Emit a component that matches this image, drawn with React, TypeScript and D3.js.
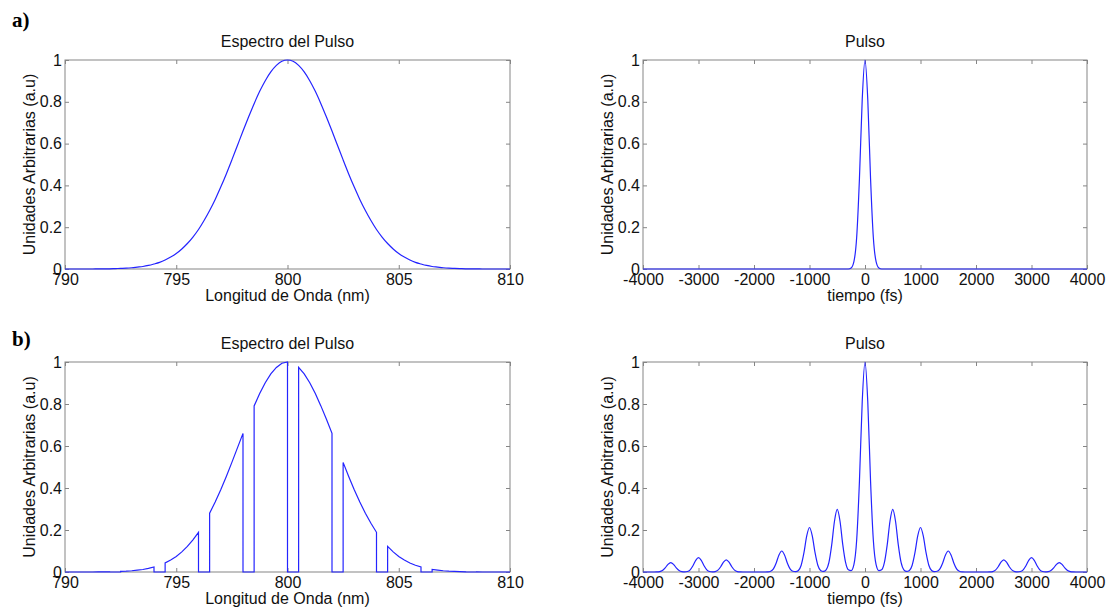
import React, { useEffect, useRef } from 'react';
import * as d3 from 'd3';

const W = 1109;
const H = 608;
const FONT = '"Liberation Sans", Arial, Helvetica, sans-serif';
const SERIF = '"Liberation Serif", "Times New Roman", serif';
const FS = 16;
const AXIS = '#858585';
const LINE = '#2424ff';

// --- values ---
const wavelengthTicks = [790, 795, 800, 805, 810];
const timeTicks = [-4000, -3000, -2000, -1000, 0, 1000, 2000, 3000, 4000];
const amplitudeTicks = [0, 0.2, 0.4, 0.6, 0.8, 1];

// pulse spectrum, one sample every 0.25 nm from 790 to 810 nm
const spectrum = [
  0, 0, 0, 0, 0, 0, 0.001, 0.001, 0.001, 0.002, 0.003, 0.004, 0.006, 0.009, 0.012, 0.017,
  0.024, 0.032, 0.043, 0.057, 0.074, 0.096, 0.122, 0.153, 0.189, 0.232, 0.28, 0.333, 0.392, 0.455,
  0.522, 0.591, 0.66, 0.727, 0.791, 0.85, 0.901, 0.943, 0.974, 0.994,
  1,
  0.994, 0.974, 0.943, 0.901, 0.85, 0.791, 0.727, 0.66, 0.591, 0.522, 0.455, 0.392, 0.333, 0.28,
  0.232, 0.189, 0.153, 0.122, 0.096, 0.074, 0.057, 0.043, 0.032, 0.024, 0.017, 0.012, 0.009, 0.006,
  0.004, 0.003, 0.002, 0.001, 0.001, 0.001, 0, 0, 0, 0, 0, 0,
];
const wavelength = spectrum.map((_, i) => 790 + i * 0.25);

// bands cut out of the spectrum in b) (nm)
const blockedBands = [
  [792, 792.5], [794, 794.5], [796, 796.5], [798, 798.5], [800, 800.5],
  [802, 802.5], [804, 804.5], [806, 806.5], [808, 808.5],
];

// shape of one pulse, one sample every 50 fs from -300 to 300 fs
const pulseProfile = [0, 0.005, 0.035, 0.152, 0.433, 0.811, 1, 0.811, 0.433, 0.152, 0.035, 0.005, 0];

// pulse a): a single peak
const peakTimesA = [0];
const peakHeightsA = [1];

// pulse b): main peak and its replicas
const peakTimesB = [-3500, -3000, -2500, -1500, -1000, -500, 0, 500, 1000, 1500, 2500, 3000, 3500];
const peakHeightsB = [0.045, 0.068, 0.058, 0.1, 0.212, 0.298, 1, 0.298, 0.212, 0.1, 0.058, 0.068, 0.045];

const timeGrid = d3.range(-80, 81).map(i => i * 50);

function pulseSeries(times: number[], heights: number[]): [number, number][] {
  return timeGrid.map(t => {
    let v = 0;
    times.forEach((c, k) => {
      const idx = (t - c) / 50 + 6;
      if (idx >= 0 && idx < pulseProfile.length) v += heights[k] * pulseProfile[idx];
    });
    return [t, v];
  });
}

function filteredSpectrum(): [number, number][] {
  const pts: [number, number][] = [];
  wavelength.forEach((w, i) => {
    const v = spectrum[i];
    const band = blockedBands.find(([lo, hi]) => w >= lo && w <= hi);
    if (!band) pts.push([w, v]);
    else if (w === band[0]) pts.push([w, v], [w, 0]);
    else if (w === band[1]) pts.push([w, 0], [w, v]);
  });
  return pts;
}

const panels = [
  {
    left: 65, right: 510, top: 60, bottom: 269, domain: [790, 810], ticks: wavelengthTicks,
    title: 'Espectro del Pulso', xLabel: 'Longitud de Onda (nm)',
    data: wavelength.map((w, i) => [w, spectrum[i]] as [number, number]), curve: d3.curveMonotoneX,
  },
  {
    left: 643, right: 1087, top: 60, bottom: 269, domain: [-4000, 4000], ticks: timeTicks,
    title: 'Pulso', xLabel: 'tiempo (fs)',
    data: pulseSeries(peakTimesA, peakHeightsA), curve: d3.curveMonotoneX,
  },
  {
    left: 65, right: 510, top: 362, bottom: 572, domain: [790, 810], ticks: wavelengthTicks,
    title: 'Espectro del Pulso', xLabel: 'Longitud de Onda (nm)',
    data: filteredSpectrum(), curve: d3.curveLinear,
  },
  {
    left: 643, right: 1087, top: 362, bottom: 572, domain: [-4000, 4000], ticks: timeTicks,
    title: 'Pulso', xLabel: 'tiempo (fs)',
    data: pulseSeries(peakTimesB, peakHeightsB), curve: d3.curveMonotoneX,
  },
];

function drawPanel(svg: any, p: any) {
  const x = d3.scaleLinear().domain(p.domain).range([p.left, p.right]);
  const y = d3.scaleLinear().domain([0, 1]).range([p.bottom, p.top]);
  const g = svg.append('g');

  const styleAxis = (a: any) => {
    a.attr('font-size', FS).attr('font-family', FONT);
    a.select('.domain').remove();
    a.selectAll('.tick line').attr('stroke', AXIS);
    a.selectAll('.tick text').attr('fill', '#111');
  };

  g.append('g').attr('transform', `translate(0,${p.bottom})`)
    .call(d3.axisBottom(x).tickValues(p.ticks).tickFormat((d: any) => String(d))
      .tickSizeInner(-4).tickSizeOuter(0).tickPadding(5))
    .call(styleAxis);
  g.append('g').attr('transform', `translate(0,${p.top})`)
    .call(d3.axisTop(x).tickValues(p.ticks).tickFormat(() => '').tickSizeInner(-4).tickSizeOuter(0))
    .call(styleAxis);
  g.append('g').attr('transform', `translate(${p.left},0)`)
    .call(d3.axisLeft(y).tickValues(amplitudeTicks).tickFormat((d: any) => String(d))
      .tickSizeInner(-4).tickSizeOuter(0).tickPadding(3))
    .call(styleAxis);
  g.append('g').attr('transform', `translate(${p.right},0)`)
    .call(d3.axisRight(y).tickValues(amplitudeTicks).tickFormat(() => '').tickSizeInner(-4).tickSizeOuter(0))
    .call(styleAxis);

  g.append('rect')
    .attr('x', p.left).attr('y', p.top)
    .attr('width', p.right - p.left).attr('height', p.bottom - p.top)
    .attr('fill', 'none').attr('stroke', AXIS).attr('stroke-width', 1);

  const line = d3.line<[number, number]>().x(d => x(d[0])).y(d => y(d[1])).curve(p.curve);
  g.append('path').datum(p.data)
    .attr('d', line).attr('fill', 'none').attr('stroke', LINE).attr('stroke-width', 1.2);

  const mid = (p.left + p.right) / 2;
  g.append('text').attr('x', mid).attr('y', p.top - 13)
    .attr('text-anchor', 'middle').attr('font-family', FONT).attr('font-size', FS).attr('fill', '#111')
    .text(p.title);
  g.append('text').attr('x', mid).attr('y', p.bottom + 32)
    .attr('text-anchor', 'middle').attr('font-family', FONT).attr('font-size', FS).attr('fill', '#111')
    .text(p.xLabel);
  g.append('text')
    .attr('transform', `translate(${p.left - 30},${(p.top + p.bottom) / 2}) rotate(-90)`)
    .attr('text-anchor', 'middle').attr('font-family', FONT).attr('font-size', FS).attr('fill', '#111')
    .text('Unidades Arbitrarias (a.u)');
}

export default function App() {
  const ref = useRef<SVGSVGElement>(null);

  useEffect(() => {
    const svg = d3.select(ref.current);
    svg.selectAll('*').remove();
    svg.append('rect').attr('width', W).attr('height', H).attr('fill', 'white');

    panels.forEach(p => drawPanel(svg, p));

    svg.append('text').attr('x', 12).attr('y', 27)
      .attr('font-family', SERIF).attr('font-weight', 'bold').attr('font-size', 21).text('a)');
    svg.append('text').attr('x', 12).attr('y', 346)
      .attr('font-family', SERIF).attr('font-weight', 'bold').attr('font-size', 21).text('b)');
  }, []);

  return <svg ref={ref} width={W} height={H} style={{ position: 'absolute', left: 0, top: 0 }} />;
}
